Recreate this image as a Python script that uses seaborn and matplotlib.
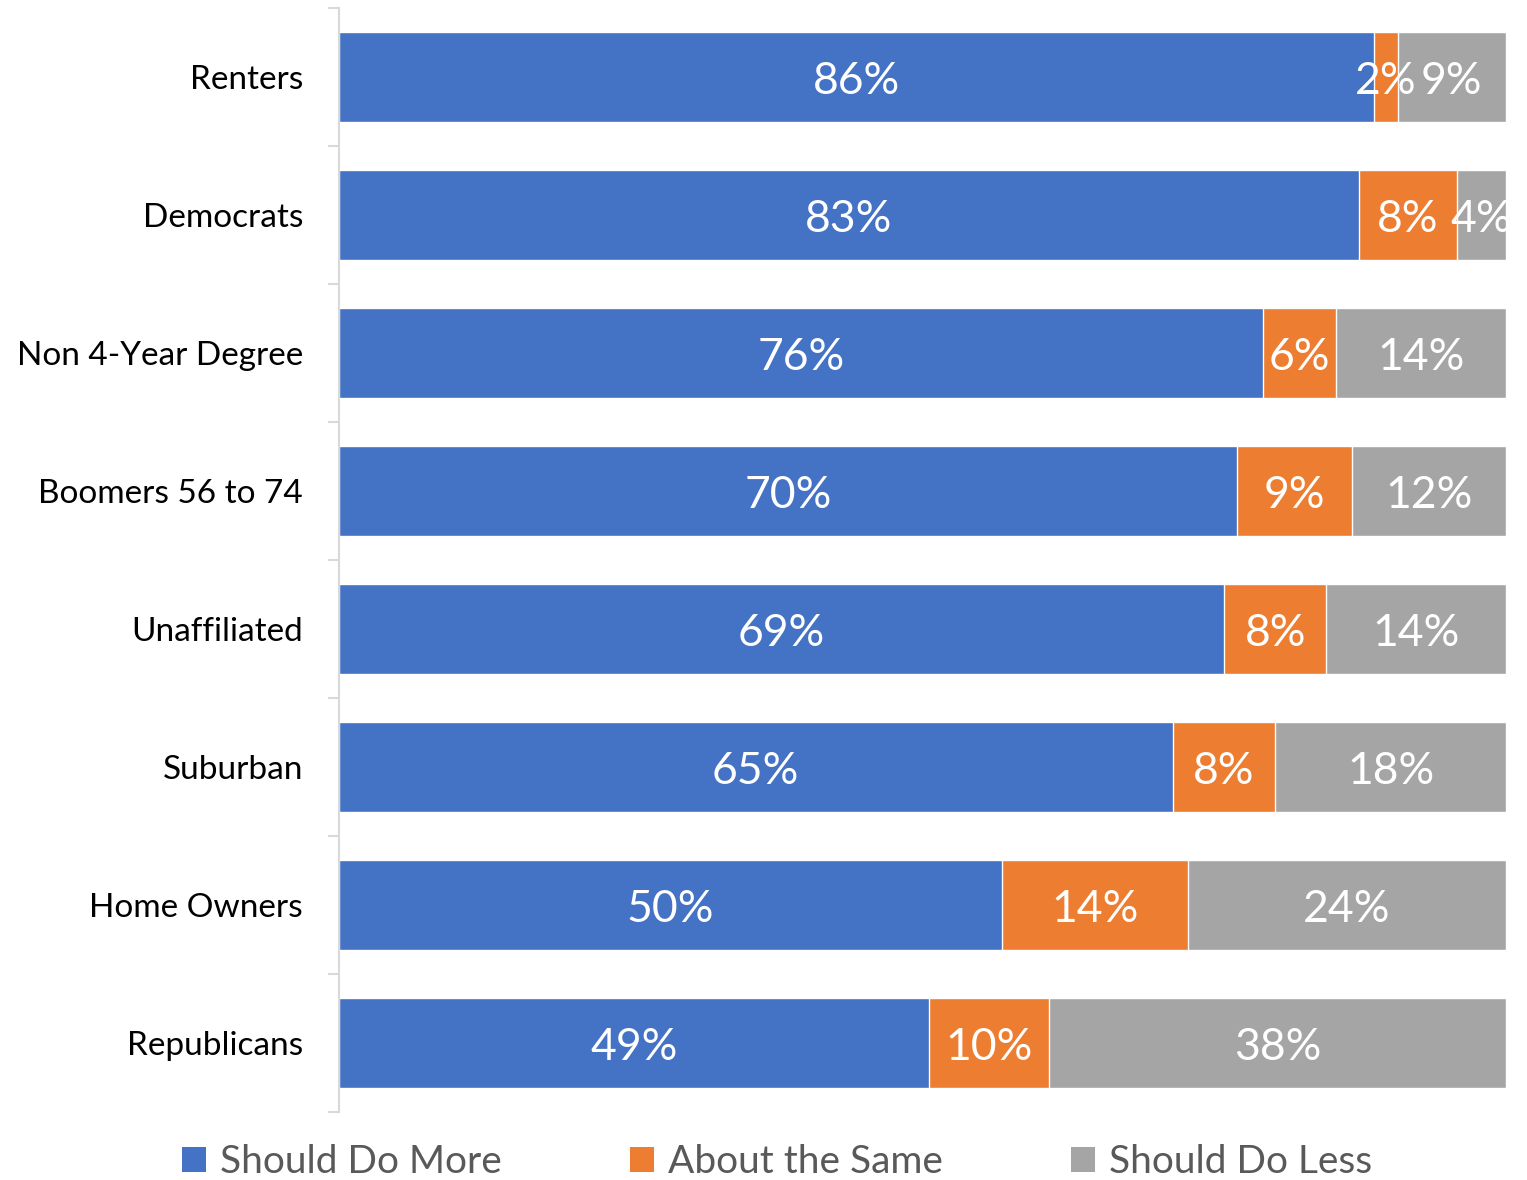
import numpy as np
import pandas as pd
import matplotlib
matplotlib.use("Agg")
import matplotlib.pyplot as plt
from matplotlib.patches import Patch
import seaborn as sns

categories = ["Renters", "Democrats", "Non 4-Year Degree", "Boomers 56 to 74",
              "Unaffiliated", "Suburban", "Home Owners", "Republicans"]
should_do_more = [86, 83, 76, 70, 69, 65, 50, 49]
about_the_same = [2, 8, 6, 9, 8, 8, 14, 10]
should_do_less = [9, 4, 14, 12, 14, 18, 24, 38]
series_names = ["Should Do More", "About the Same", "Should Do Less"]
colors = ["#4472C4", "#ED7D31", "#A5A5A5"]

sns.set_theme(style="white")
plt.rcParams["font.family"] = ["Lato", "DejaVu Sans"]

more = np.array(should_do_more, float)
same = np.array(about_the_same, float)
less = np.array(should_do_less, float)
total = more + same + less
p1 = more / total
p2 = same / total
p3 = less / total
cum1 = p1
cum2 = p1 + p2
cum3 = p1 + p2 + p3

df = pd.DataFrame({"cat": categories, "c1": cum1, "c2": cum2, "c3": cum3})

fig = plt.figure(figsize=(15.27, 11.80), dpi=100)
ax = fig.add_axes([339 / 1527, 1 - 1112 / 1180, (1506 - 339) / 1527, (1112 - 8) / 1180])

for col, c in zip(["c3", "c2", "c1"], colors[::-1]):
    sns.barplot(data=df, x=col, y="cat", orient="h", color=c, width=0.65,
                edgecolor="white", linewidth=1, saturation=1, ax=ax)

ax.set_xlim(0, 1)
ax.set_ylim(len(categories) - 0.5, -0.5)
ax.set_xlabel("")
ax.set_ylabel("")
ax.set_xticks([])

# segment labels
for i in range(len(categories)):
    starts = [0, cum1[i], cum2[i]]
    widths = [p1[i], p2[i], p3[i]]
    vals = [should_do_more[i], about_the_same[i], should_do_less[i]]
    for s, w, v in zip(starts, widths, vals):
        ax.text(s + w / 2, i + 0.03, f"{v}%", ha="center", va="center", color="white",
                fontsize=32, clip_on=True)

for side in ["top", "right", "bottom"]:
    ax.spines[side].set_visible(False)
ax.spines["left"].set_color("#D9D9D9")
ax.spines["left"].set_linewidth(1.5)

ax.tick_params(axis="y", which="major", length=0, pad=26, labelsize=24, labelcolor="black")
ax.set_yticks(np.arange(-0.5, len(categories) + 0.5, 1.0), minor=True)
ax.tick_params(axis="y", which="minor", length=8, width=1.5, color="#D9D9D9", left=True)

handles = [Patch(facecolor=c, edgecolor="none") for c in colors]
fig.legend(handles, series_names, loc="center", bbox_to_anchor=(777 / 1527, 1 - 1162 / 1180),
           ncol=3, frameon=False, fontsize=28, labelcolor="#595959",
           handlelength=0.62, handleheight=0.62, handletextpad=0.35, columnspacing=3.3,
           borderpad=0, borderaxespad=0)

fig.savefig("out.png", dpi=100)
